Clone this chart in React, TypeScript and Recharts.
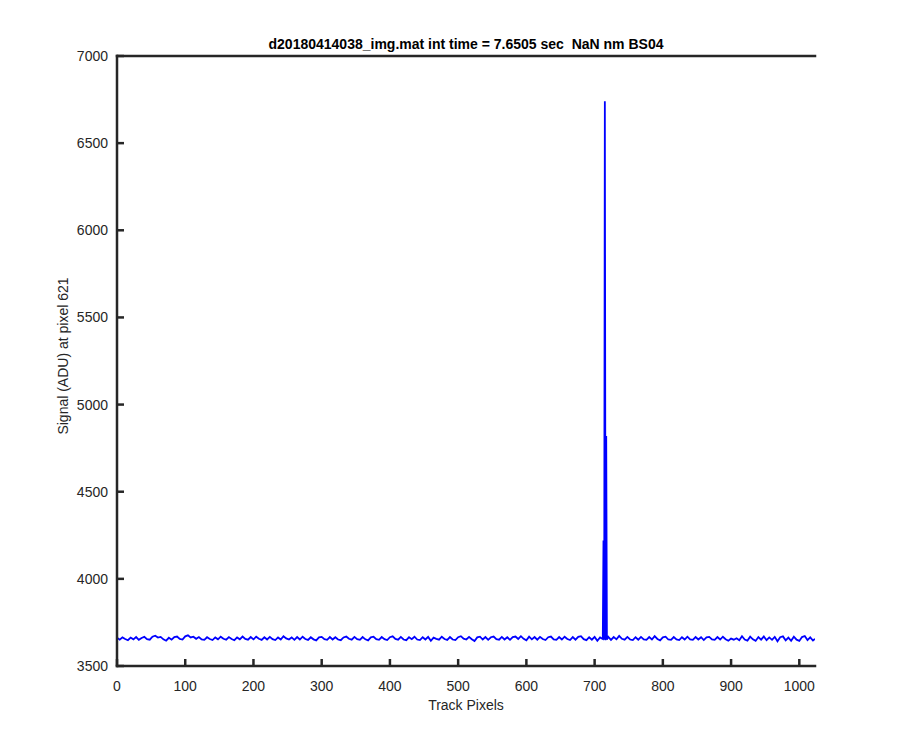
import React from "react";
import { Label, Line, LineChart, XAxis, YAxis } from "recharts";

// baseline readings, one every 4 track pixels (0..1020)
const baseStep = 4;
const baseSignal = [
  3662, 3651, 3664, 3655, 3648, 3663, 3653, 3666, 3650, 3661, 3667, 3654, 3651, 3668, 3674, 3663,
  3667, 3653, 3645, 3662, 3651, 3666, 3669, 3655, 3652, 3670, 3676, 3664, 3668, 3656, 3666, 3652,
  3650, 3665, 3655, 3649, 3664, 3653, 3668, 3656, 3651, 3666, 3655, 3648, 3664, 3653, 3669, 3655,
  3651, 3666, 3653, 3668, 3656, 3650, 3665, 3652, 3667, 3654, 3649, 3664, 3652, 3671, 3658, 3652,
  3664, 3650, 3666, 3652, 3668, 3655, 3650, 3665, 3653, 3647, 3664, 3667, 3654, 3650, 3666, 3652,
  3665, 3652, 3648, 3664, 3669, 3656, 3651, 3667, 3654, 3650, 3666, 3653, 3647, 3664, 3668, 3654,
  3650, 3666, 3654, 3649, 3665, 3670, 3655, 3651, 3667, 3652, 3648, 3665, 3654, 3668, 3652, 3649,
  3665, 3652, 3667, 3645, 3663, 3656, 3651, 3668, 3655, 3650, 3666, 3652, 3649, 3665, 3671, 3657,
  3652, 3667, 3654, 3643, 3664, 3668, 3652, 3666, 3650, 3665, 3669, 3654, 3651, 3667, 3652, 3665,
  3650, 3666, 3669, 3655, 3671, 3656, 3647, 3668, 3653, 3666, 3651, 3667, 3655, 3649, 3665, 3669,
  3653, 3650, 3666, 3652, 3668, 3655, 3649, 3666, 3651, 3667, 3671, 3654, 3648, 3665, 3651, 3667,
  3645, 3664, 3655, 3652, 3667, 3650, 3666, 3653, 3673, 3656, 3651, 3667, 3652, 3649, 3665, 3651,
  3667, 3653, 3650, 3666, 3652, 3671, 3655, 3647, 3664, 3668, 3652, 3650, 3666, 3653, 3649, 3665,
  3652, 3668, 3653, 3650, 3666, 3652, 3665, 3649, 3664, 3667, 3653, 3650, 3666, 3652, 3668, 3654,
  3645, 3657, 3651, 3659, 3648, 3671, 3652, 3646, 3668, 3653, 3644, 3666, 3651, 3669, 3648, 3664,
  3650, 3667, 3642, 3665, 3670, 3647, 3663, 3645, 3668, 3651, 3644, 3666, 3672, 3649, 3664, 3646,
];
const lastPixel = 1023;
const lastSignal = 3656;

// the hot spot around pixel 715
const spikePixels = [712, 713, 714, 715, 716, 717, 718];
const spikeSignal = [3655, 4220, 3650, 6740, 3648, 4820, 3652];

const xTicks = [0, 100, 200, 300, 400, 500, 600, 700, 800, 900, 1000];
const yTicks = [3500, 4000, 4500, 5000, 5500, 6000, 6500, 7000];

// Recharts' Text squeezes runs of spaces, the no-break space keeps the wide gap
const title = "d20180414038_img.mat int time = 7.6505 sec \u00a0NaN nm BS04";

const spikeFrom = spikePixels[0];
const spikeTo = spikePixels[spikePixels.length - 1];

const data = [
  ...baseSignal.map((v, i) => ({ px: i * baseStep, signal: v })),
  { px: lastPixel, signal: lastSignal },
]
  .filter((d) => d.px < spikeFrom || d.px > spikeTo)
  .concat(spikePixels.map((px, i) => ({ px, signal: spikeSignal[i] })))
  .sort((a, b) => a.px - b.px);

const ink = "#262626";
const axisStyle = { stroke: ink, strokeWidth: 2.5, strokeLinecap: "square" as const };
const tickStyle = { stroke: ink, strokeWidth: 2.5 };
const tickText = { fill: ink, fontSize: 14 };

export default function App() {
  return (
    <div style={{ position: "absolute", left: 0, top: 0, background: "#fff" }}>
      <LineChart
        width={900}
        height={750}
        data={data}
        margin={{ top: 32, right: 85, bottom: 6, left: 9 }}
        style={{ fontFamily: "'Liberation Sans', Arial, sans-serif" }}
      >
        <XAxis
          dataKey="px"
          type="number"
          domain={[0, 1023]}
          ticks={xTicks}
          allowDataOverflow
          height={78}
          tickSize={-7}
          tickMargin={22}
          axisLine={axisStyle}
          tickLine={tickStyle}
          tick={tickText}
        >
          <Label value="Track Pixels" position="center" fill={ink} fontSize={14} />
        </XAxis>
        <XAxis
          xAxisId="top"
          orientation="top"
          type="number"
          domain={[0, 1023]}
          ticks={xTicks}
          allowDataOverflow
          height={24}
          tickSize={-7}
          axisLine={axisStyle}
          tickLine={tickStyle}
          tick={false}
        >
          <Label value={title} position="center" fill="#000" fontSize={14} fontWeight="bold" />
        </XAxis>
        <YAxis
          type="number"
          domain={[3500, 7000]}
          ticks={yTicks}
          allowDataOverflow
          width={108}
          tickSize={-7}
          tickMargin={16}
          axisLine={axisStyle}
          tickLine={tickStyle}
          tick={tickText}
        >
          <Label
            value="Signal (ADU) at pixel 621"
            angle={-90}
            position="center"
            dy={-5}
            fill={ink}
            fontSize={14}
          />
        </YAxis>
        <YAxis
          yAxisId="right"
          orientation="right"
          type="number"
          domain={[3500, 7000]}
          ticks={yTicks}
          allowDataOverflow
          width={0}
          tickSize={-7}
          axisLine={axisStyle}
          tickLine={tickStyle}
          tick={false}
        />
        <Line
          dataKey="signal"
          stroke="#0000ff"
          strokeWidth={1.8}
          dot={false}
          isAnimationActive={false}
        />
      </LineChart>
    </div>
  );
}
